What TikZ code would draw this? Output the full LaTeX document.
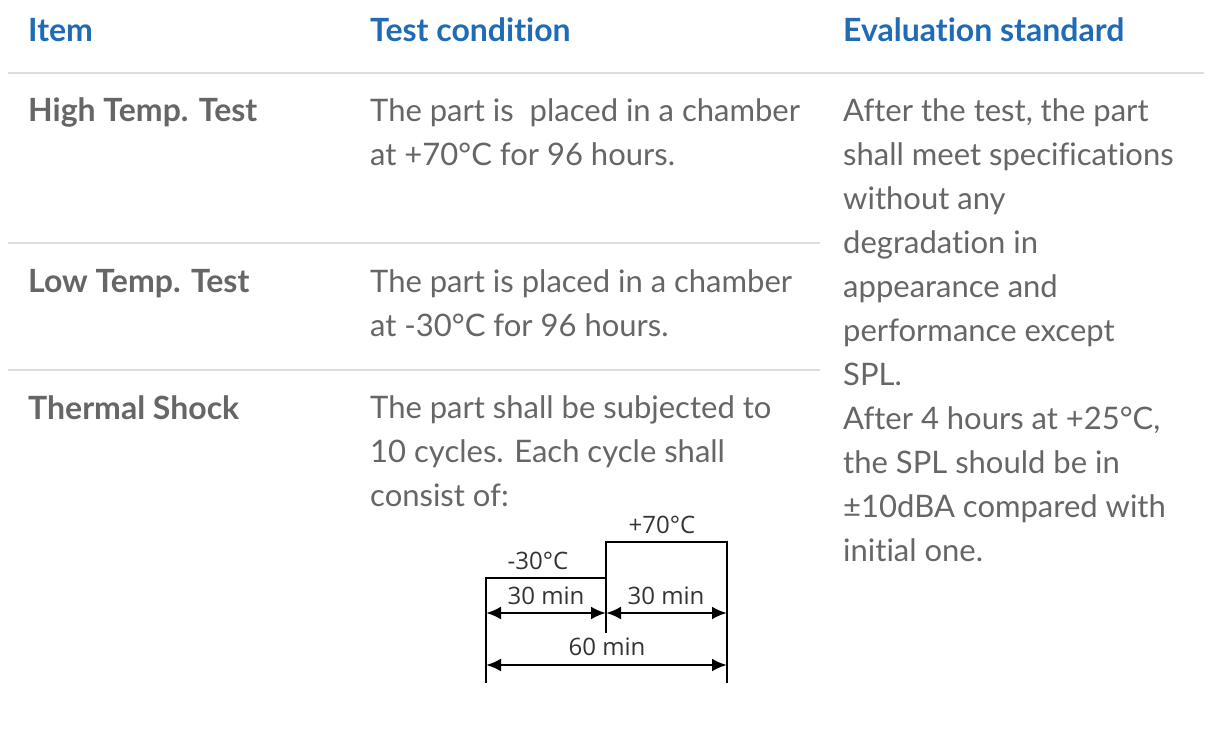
\documentclass[tikz,border=0pt]{standalone}
\usepackage{fontspec}
\setmainfont{Lato}[Ligatures=NoCommon]
\newfontfamily\diafont{Open Sans}
\usetikzlibrary{arrows.meta}
\definecolor{hdr}{HTML}{1F6BB5}
\definecolor{body}{HTML}{666666}
\definecolor{rule}{HTML}{DDDDDD}
\definecolor{dia}{HTML}{333333}
\begin{document}
\begin{tikzpicture}[x=1pt,y=-1pt,
  head/.style={anchor=base west,inner sep=0pt,text=hdr,font=\fontsize{32}{44}\selectfont\bfseries},
  item/.style={anchor=base west,inner sep=0pt,text=body,font=\fontsize{32}{44}\selectfont\bfseries},
  txt/.style={anchor=north west,inner sep=0pt,text=body,align=left,font=\fontsize{31}{44}\selectfont},
  sep/.style={rule,line width=2pt},
  dlab/.style={inner sep=0pt,text=dia,font=\diafont\fontsize{24}{26}\selectfont},
  dline/.style={line width=1.6pt,black},
  dim/.style={line width=2.6pt,black,{Latex[length=15pt,width=13pt]}-{Latex[length=15pt,width=13pt]}}]
\useasboundingbox (0,0) rectangle (1213,751);
\fill[white] (0,0) rectangle (1213,751);
% headers
\node[head] (h1) at (28,42) {Item};
\node[head] (h2) at (370,42) {Test condition};
\node[head] (h3) at (843,42) {Evaluation standard};
% rules
\draw[sep] (8,73) -- (1204,73);
\draw[sep] (8,243) -- (820,243);
\draw[sep] (8,370) -- (820,370);
% items
\node[item] (i1) at (28,122) {High Temp. Test};
\node[item] (i2) at (28,293) {Low Temp. Test};
\node[item] (i3) at (28,419) {Thermal Shock};
% conditions
\node[txt] (c1) at (370,98) {The part is\ \ placed in a chamber\\at +70\textdegree C for 96 hours.};
\node[txt] (c2) at (370,269) {The part is placed in a chamber\\at -30\textdegree C for 96 hours.};
\node[txt] (c3) at (370,395) {The part shall be subjected to\\10 cycles. Each cycle shall\\consist of:};
% evaluation
\node[txt] (e1) at (843,98) {After the test, the part\\shall meet specifications\\without any\\degradation in\\appearance and\\performance except\\SPL.\\After 4 hours at +25\textdegree C,\\the SPL should be in\\\textpm10dBA compared with\\initial one.};
% diagram
\coordinate (a0) at (486,683);
\coordinate (a1) at (486,578);
\coordinate (s0) at (606,578);
\coordinate (s1) at (606,542);
\coordinate (b1) at (727,542);
\coordinate (b0) at (727,683);
\coordinate (m0) at (606,633);
\draw[dline] (a0) -- (a1) -- (s0) -- (s1) -- (b1) -- (b0);
\draw[dline] (s0) -- (m0);
\coordinate (l1) at (486,613);
\coordinate (c1m) at (606,613);
\coordinate (r1) at (727,613);
\coordinate (l2) at (486,665);
\coordinate (r2) at (727,665);
\draw[dim] (l1) -- (c1m);
\draw[dim] (c1m) -- (r1);
\draw[dim] (l2) -- (r2);
\node[dlab] (t1) at (538,561) {-30\textdegree C};
\node[dlab] (t2) at (662,525) {+70\textdegree C};
\node[dlab] (d1) at (546,596) {30 min};
\node[dlab] (d2) at (666,596) {30 min};
\node[dlab] (d3) at (607,647) {60 min};
\end{tikzpicture}
\end{document}
